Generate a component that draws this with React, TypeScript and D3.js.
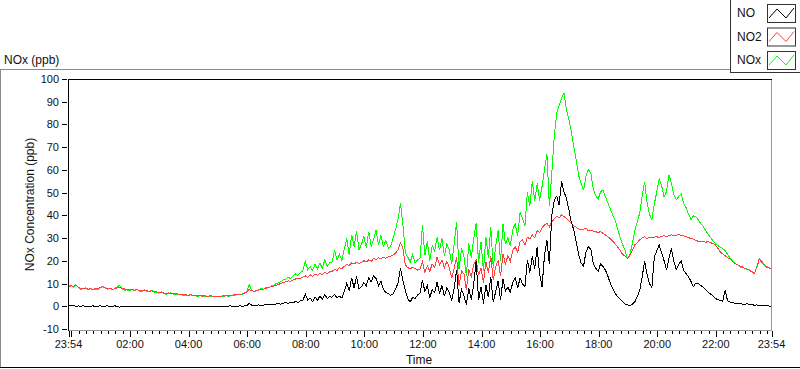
import React from 'react';
import * as d3 from 'd3';

// readings every 5 minutes, starting 23:54, one row per hour
const no = [
  0.3, 0.1, 0.4, -0.1, 0.2, 0, 0.3, -0.2, 0.1, 0, 0.2, -0.1,
  0, 0.3, -0.2, 0.1, 0.2, -0.3, 0, 0.2, -0.1, -0.4, 0, -0.2,
  -0.2, 0, -0.3, 0.1, -0.1, 0, -0.2, 0.1, -0.1, 0, -0.2, -0.1,
  -0.1, 0, -0.2, 0, -0.1, -0.3, 0, -0.1, 0.1, -0.2, 0, -0.1,
  0, -0.2, 0.1, -0.1, 0, -0.2, 0, -0.1, 0.1, -0.2, -0.1, 0,
  -0.1, 0, -0.2, 0.1, 0, -0.1, 0.2, 0, 0.1, -0.1, 0.2, 0.1,
  0.1, 0.3, 1.2, 0.5, 0.2, 0.4, 0.6, 0.3, 0.5, 0.8, 0.6, 0.9,
  0.8, 1.0, 1.2, 0.9, 1.4, 1.6, 1.3, 1.8, 1.5, 2.2, 1.6, 2.4,
  2.4, 5.4, 2.8, 3.6, 2.1, 4.2, 2.6, 4.5, 3.0, 5.1, 3.4, 4.2,
  4.0, 5.2, 3.8, 4.4, 3.6, 6.5, 10.2, 6.8, 12.4, 8.1, 13.2, 7.5,
  8.6, 10.4, 9.0, 12.6, 10.8, 13.4, 12.2, 9.1, 11.2, 7.4, 6.1, 5.6,
  4.8, 5.4, 7.6, 10.2, 16.6, 11.4, 7.0, 3.2, 1.9, 4.0, 3.4, 5.0,
  5.7, 11.6, 6.4, 9.0, 4.0, 7.2, 6.0, 10.6, 5.6, 9.2, 4.4, 8.1,
  6.2, 2.4, 8.0, 16.0, 1.6, 7.4, 4.6, 0.8, 7.8, 3.0, 9.6, 20.0,
  2.8, 8.6, 1.2, 9.4, 4.0, 12.8, 1.8, 6.4, 11.2, 2.6, 12.0, 6.8,
  8.4, 6.2, 10.4, 12.6, 8.0, 12.4, 9.8, 8.6, 20.4, 14.8, 22.0, 16.6,
  26.0, 14.2, 8.5, 22.4, 29.0, 18.5, 40.2, 46.7, 48.4, 44.6, 55.0, 50.2,
  47.6, 42.4, 37.0, 33.6, 28.4, 22.6, 19.0, 17.6, 24.0, 26.2, 25.0, 18.8,
  16.8, 15.4, 18.8, 17.4, 15.8, 13.2, 10.0, 7.6, 5.6, 4.2, 3.2, 2.2,
  1.0, 0.6, 0.4, 0.9, 1.9, 4.2, 7.0, 12.6, 20.0, 14.2, 10.0, 8.4,
  21.6, 24.4, 27.0, 23.4, 20.0, 16.0, 21.0, 25.4, 19.6, 16.2, 18.4, 20.0,
  15.8, 14.4, 12.9, 11.0, 8.6, 10.2, 10.0, 9.2, 8.4, 7.2, 6.2, 5.4,
  4.6, 3.4, 3.0, 2.6, 2.2, 7.0, 2.4, 1.9, 1.6, 1.4, 1.3, 1.2,
  1.0, 0.8, 1.2, 0.6, 0.8, 0.4, 0.6, 0.3, 0.5, 0.2, 0.3, 0.1,
  0.0,
];

const no2 = [
  8.5, 9, 8.8, 9.2, 8.4, 7.6, 7.8, 8, 7.5, 7.7, 7.4, 7.8,
  7.6, 8.3, 8.6, 8.1, 7.8, 7.9, 7.5, 7.7, 8.2, 8.4, 7.9, 7.6,
  7.4, 7.2, 7.4, 7.1, 7.3, 7.0, 6.8, 7.1, 6.9, 6.6, 6.8, 6.5,
  6.3, 6.0, 6.2, 5.8, 5.6, 5.9, 5.7, 5.5, 5.6, 5.3, 5.4, 5.2,
  5.1, 4.9, 5.0, 4.8, 4.9, 4.6, 4.7, 4.5, 4.6, 4.4, 4.6, 4.5,
  4.4, 4.5, 4.3, 4.6, 4.5, 4.8, 4.6, 4.9, 5.0, 5.2, 5.1, 5.4,
  5.8, 6.2, 7.4, 6.8, 6.6, 6.9, 7.1, 7.5, 7.6, 8.0, 8.3, 8.6,
  8.8, 9.2, 9.5, 10.1, 10.4, 10.8, 11.2, 11.0, 11.6, 12.0, 12.4, 12.2,
  12.8, 13.4, 12.6, 13.9, 13.2, 14.1, 13.6, 14.4, 13.8, 14.9, 14.3, 15.2,
  15.4, 16.2, 15.8, 17.0, 16.5, 17.6, 18.4, 17.9, 19.2, 18.6, 19.4, 18.9,
  19.2, 20.1, 19.5, 20.4, 19.8, 21.0, 20.6, 21.3, 20.8, 21.6, 21.1, 21.8,
  22.0, 22.6, 23.4, 24.8, 27.8, 25.6, 18.2, 17.0, 16.4, 17.2, 16.6, 15.9,
  16.2, 19.5, 15.0, 17.8, 15.4, 18.6, 17.0, 21.7, 18.1, 20.4, 16.9, 19.8,
  17.0, 12.4, 16.8, 21.5, 9.0, 15.6, 14.2, 7.2, 16.4, 13.0, 18.2, 20.6,
  13.6, 16.8, 10.4, 19.6, 14.8, 22.0, 11.6, 17.4, 20.2, 13.2, 23.0, 18.4,
  22.4, 19.8, 24.6, 26.2, 23.8, 28.4, 29.2, 27.0, 30.4, 29.6, 31.4, 30.2,
  33.2, 32.4, 34.6, 35.8, 36.4, 35.0, 37.2, 38.4, 39.6, 38.8, 40.2, 39.4,
  38.7, 37.6, 36.4, 35.4, 34.8, 34.0, 33.6, 33.8, 34.4, 33.2, 33.6, 33.0,
  32.8, 32.4, 32.9, 32.0, 31.4, 30.6, 29.6, 28.6, 27.4, 26.0, 24.6, 22.8,
  22.0, 21.0, 22.4, 24.6, 27.0, 28.0, 29.2, 30.0, 30.6, 29.6, 30.4, 30.2,
  30.4, 30.6, 30.2, 30.8, 31.0, 30.6, 31.2, 31.4, 31.0, 31.2, 31.6, 31.2,
  31.0, 30.6, 30.2, 29.8, 29.6, 29.0, 28.6, 28.4, 28.6, 28.2, 28.4, 28.0,
  27.6, 27.0, 25.6, 24.0, 23.0, 22.2, 21.4, 20.8, 19.6, 18.8, 18.4, 17.8,
  17.4, 16.6, 16.2, 15.9, 15.0, 14.4, 17.2, 20.6, 19.4, 18.0, 17.2, 16.8,
  16.2,
];

const nox = [
  8.8, 9.3, 8.5, 9.6, 8.2, 7.4, 7.9, 8.1, 7.2, 7.9, 7.1, 7.6,
  7.4, 8.1, 8.8, 7.9, 7.6, 8.1, 7.3, 7.9, 8.6, 9.2, 7.7, 7.1,
  7.2, 6.9, 7.6, 6.8, 7.5, 6.7, 6.5, 7.3, 6.6, 6.3, 7.0, 6.3,
  6.0, 5.8, 6.4, 5.5, 5.3, 5.7, 5.9, 5.2, 5.4, 5.0, 5.1, 4.9,
  4.8, 4.6, 5.2, 4.5, 4.7, 4.3, 4.8, 4.2, 4.4, 4.1, 4.5, 4.3,
  4.2, 4.3, 4.1, 4.4, 4.6, 4.5, 4.4, 4.8, 4.9, 5.0, 5.3, 5.2,
  5.6, 6.4, 9.6, 7.2, 6.4, 6.8, 7.3, 7.9, 7.4, 8.4, 8.1, 8.9,
  9.3, 9.9, 10.4, 10.8, 11.6, 11.9, 12.8, 12.1, 13.4, 14.2, 13.6, 14.8,
  15.6, 19.8, 16.1, 17.4, 15.8, 18.6, 16.5, 18.9, 16.8, 20.4, 17.5, 19.1,
  19.5, 24.6, 20.3, 22.8, 20.1, 25.4, 29.8, 22.6, 31.5, 26.2, 33.1, 24.8,
  27.2, 30.6, 25.8, 32.8, 26.5, 29.4, 33.6, 27.0, 31.2, 26.4, 28.9, 25.6,
  26.4, 30.2, 33.8, 38.4, 45.2, 36.0, 23.4, 21.6, 19.5, 22.8, 19.0, 20.4,
  21.0, 35.6, 22.4, 28.5, 20.1, 26.8, 24.2, 30.4, 24.6, 29.8, 22.0, 27.3,
  24.8, 18.6, 27.5, 37.0, 16.2, 25.4, 22.0, 13.5, 27.6, 21.4, 29.8, 36.5,
  19.2, 28.4, 15.5, 30.6, 21.4, 34.8, 17.0, 26.2, 33.5, 19.8, 36.2, 27.4,
  30.2, 26.4, 33.8, 36.4, 31.0, 41.2, 38.6, 35.4, 50.2, 44.0, 55.0, 46.4,
  54.0, 46.5, 52.8, 60.2, 67.0, 44.0, 58.6, 74.6, 85.0, 88.2, 91.6, 93.8,
  86.4, 82.0, 76.8, 70.2, 64.4, 57.6, 54.2, 51.0, 57.4, 60.2, 58.4, 51.6,
  48.6, 47.2, 50.4, 51.2, 48.0, 45.4, 42.8, 40.0, 37.6, 33.8, 30.4, 27.2,
  24.6, 21.0, 22.8, 27.6, 33.4, 37.2, 41.0, 48.4, 54.8, 46.0, 40.4, 38.2,
  45.0, 50.4, 56.2, 53.0, 48.0, 50.6, 57.8, 54.0, 49.2, 46.8, 48.4, 49.6,
  45.2, 43.4, 40.6, 38.2, 39.8, 39.4, 38.0, 36.4, 35.2, 33.4, 31.8, 30.2,
  28.8, 27.6, 26.8, 26.0, 25.4, 24.6, 22.8, 21.2, 20.0, 18.8, 18.4, 17.3,
  17.0, 16.8, 16.4, 16.0, 15.2, 14.4, 17.6, 21.0, 19.8, 18.4, 17.6, 17.0,
  16.6,
];

const seriesNames = ['NO', 'NO2', 'NOx'];
const seriesColors = ['#000000', '#ff4040', '#00ff00'];
const yTicks = [-10, 0, 10, 20, 30, 40, 50, 60, 70, 80, 90, 100];

const start = new Date(2000, 0, 1, 23, 54);
const end = new Date(2000, 0, 2, 23, 54);
const stepMin = 5;

const W = 800;
const H = 369;
const plot = { left: 68, top: 79, right: 772, bottom: 330 };
const font = "'Liberation Sans', Arial, sans-serif";

export default function App() {
  const x = d3.scaleTime().domain([start, end]).range([plot.left + 0.5, plot.right - 0.5]);
  const y = d3.scaleLinear().domain([-10, 100]).range([329, 79]);
  const fmt = d3.timeFormat('%H:%M');

  const timeOf = (i: number) => d3.timeMinute.offset(start, i * stepMin);
  const line = d3
    .line<number>()
    .x((d, i) => x(timeOf(i)))
    .y(d => y(d));

  const minor = d3.timeMinute.every(15)!.range(start, end);
  const major = d3.timeHour.every(2)!.range(start, end);
  const labelled = [start, ...major.filter(t => t.getHours() !== 0), end];

  const drawn = [
    { data: nox, color: seriesColors[2] },
    { data: no2, color: seriesColors[1] },
    { data: no, color: seriesColors[0] },
  ];

  return (
    <svg width={W} height={H} style={{ position: 'absolute', left: 0, top: 0 }} fontFamily={font}>
      <rect width={W} height={H} fill="#fff" />
      {/* outer frame */}
      <line x1={0} x2={730} y1={69.5} y2={69.5} stroke="#8a8a8a" />
      <line x1={0.5} x2={0.5} y1={69} y2={368} stroke="#8a8a8a" />
      <line x1={0} x2={W} y1={367.5} y2={367.5} stroke="#000" />
      <text x={4} y={64} fontSize={12} fill="#111">NOx (ppb)</text>

      {/* lines */}
      <g>
        {drawn.map((s, k) => (
          <path key={k} d={line(s.data) || ''} fill="none" stroke={s.color} strokeWidth={1} shapeRendering="crispEdges" />
        ))}
      </g>

      {/* plot border */}
      <line x1={plot.left} x2={plot.right} y1={plot.bottom + 0.5} y2={plot.bottom + 0.5} stroke="#9a9a9a" />
      <line x1={plot.right - 0.5} x2={plot.right - 0.5} y1={plot.top} y2={plot.bottom + 1} stroke="#9a9a9a" />
      <line x1={plot.left} x2={plot.right} y1={plot.top + 0.5} y2={plot.top + 0.5} stroke="#000" />
      <line x1={plot.left + 0.5} x2={plot.left + 0.5} y1={plot.top} y2={plot.bottom + 1} stroke="#000" />

      {/* y axis */}
      {yTicks.map(v => (
        <g key={v}>
          <line x1={62} x2={67} y1={Math.round(y(v)) + 0.5} y2={Math.round(y(v)) + 0.5} stroke="#000" />
          <text x={59} y={y(v) + 4} fontSize={11} textAnchor="end" fill="#111">{v}</text>
        </g>
      ))}
      <text transform={`translate(34,${(plot.top + plot.bottom) / 2}) rotate(-90)`} fontSize={12} textAnchor="middle" fill="#111">
        NOx Concentration (ppb)
      </text>

      {/* x axis */}
      {minor.map((t, i) => (
        <line key={'m' + i} x1={Math.round(x(t)) + 0.5} x2={Math.round(x(t)) + 0.5} y1={331} y2={334} stroke="#000" />
      ))}
      {[start, ...major, end].map((t, i) => (
        <line key={'M' + i} x1={Math.round(x(t)) + 0.5} x2={Math.round(x(t)) + 0.5} y1={331} y2={337} stroke="#000" />
      ))}
      {labelled.map((t, i) => (
        <text key={'l' + i} x={x(t)} y={348} fontSize={11} textAnchor="middle" fill="#111">{fmt(t)}</text>
      ))}
      <text x={419} y={364} fontSize={12} textAnchor="middle" fill="#111">Time</text>

      {/* legend */}
      <rect x={730.5} y={-1} width={70} height={73.5} fill="#fff" stroke="#333" />
      {seriesNames.map((n, i) => {
        const cy = 13 + i * 23.5;
        const bx = 767;
        const by = cy - 9;
        const pts: [number, number][] = [[bx + 2, by + 14], [bx + 10, by + 5], [bx + 19, by + 14], [bx + 27, by + 4]];
        return (
          <g key={n}>
            <text x={737} y={cy + 4} fontSize={12} fill="#111">{n}</text>
            <rect x={bx + 0.5} y={by + 0.5} width={28} height={18} fill="#fff" stroke="#333" />
            <path d={d3.line()(pts) || ''} fill="none" stroke={seriesColors[i]} strokeWidth={1} />
          </g>
        );
      })}
    </svg>
  );
}
